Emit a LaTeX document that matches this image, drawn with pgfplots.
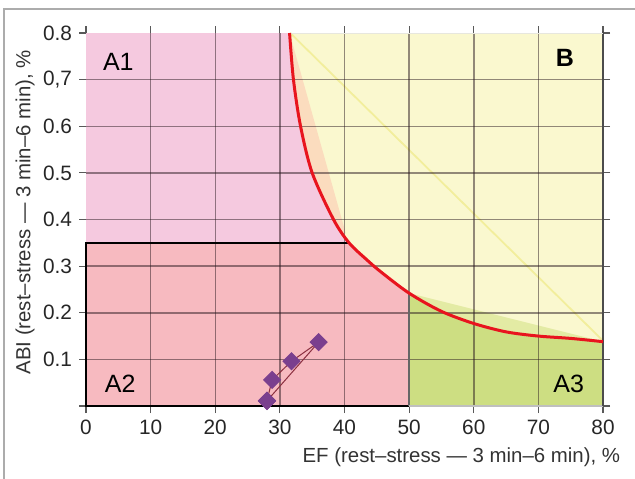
\documentclass[border=0pt]{standalone}
\usepackage{fontspec}
\setmainfont{Liberation Sans}
\usepackage{pgfplots}
\pgfplotsset{compat=1.18}
\definecolor{yel}{HTML}{FAF8CF}
\definecolor{pinkA}{HTML}{F5C9DF}
\definecolor{salmon}{HTML}{F7BAC0}
\definecolor{grn}{HTML}{CDDE82}
\definecolor{lgrn}{HTML}{E3EBA4}
\definecolor{orng}{HTML}{FBDCBE}
\definecolor{diag}{HTML}{F2EE9C}
\definecolor{redc}{HTML}{E8141E}
\definecolor{diam}{HTML}{7A3F8E}
\definecolor{brn}{HTML}{8B3040}
\definecolor{gridc}{HTML}{2A1A20}
\begin{document}
\begin{tikzpicture}
\begin{axis}[
  set layers,
  scale only axis,
  width=258.5pt, height=186.5pt,
  xmin=0, xmax=80, ymin=0, ymax=0.8,
  axis line style={draw=none},
  tick align=outside,
  major tick length=3.5pt,
  tick style={color=black!65, line width=0.6pt},
  xtick={10,20,30,40,50,60,70},
  extra x ticks={0,80},
  ytick={0.1,0.2,0.3,0.4,0.5,0.6,0.7},
  yticklabels={0.1,0.2,0.3,0.4,0.5,0.6,{0,7}},
  extra y ticks={0,0.8},
  extra y tick labels={,0.8},
  extra tick style={grid=none},
  grid=major,
  major grid style={gridc, opacity=0.5, line width=0.75pt},
  /pgf/number format/assume math mode=true,
  tick label style={font=\fontsize{10.4}{12}\selectfont, text=black!85},
  xlabel={EF (rest–stress — 3 min–6 min), \%},
  ylabel={ABI (rest–stress — 3 min–6 min), \%},
  label style={font=\fontsize{10.2}{12}\selectfont, text=black!80},
  xlabel style={at={(axis description cs:0.726,0)}, anchor=center, yshift=-25.5pt},
  ylabel style={at={(axis description cs:-0.118,0.519)}, anchor=center},
  clip=false,
]
% B background
\addplot[on layer=axis background, fill=yel, draw=none] coordinates {(0,0) (80,0) (80,0.8) (0,0.8)} \closedcycle;
% orange wedge
\addplot[on layer=axis background, fill=orng, draw=none] coordinates {(31.5,0.8) (32.1,0.7) (33.2,0.6) (35.0,0.5) (38.3,0.4) (39.7,0.37) (40.2,0.37)} -- cycle;
% A1
\addplot[on layer=axis background, fill=pinkA, draw=none] coordinates {(0,0.35) (0,0.8) (31.5,0.8) (32.1,0.7) (33.2,0.6) (35.0,0.5) (38.3,0.4) (40.7,0.35)} -- cycle;
% A2
\addplot[on layer=axis background, fill=salmon, draw=none] coordinates {(0,0) (0,0.35) (40.7,0.35) (43.5,0.313) (45.6,0.288) (50,0.242) (50,0)} -- cycle;
% A3
\addplot[on layer=axis background, fill=grn, draw=none] coordinates {(50,0) (50,0.242) (55,0.203) (60,0.177) (65,0.159) (70,0.150) (75,0.145) (80,0.138) (80,0)} -- cycle;
% light green wedge
\addplot[on layer=axis background, fill=lgrn, draw=none] coordinates {(50,0.242) (55,0.203) (60,0.177) (65,0.159) (70,0.150) (75,0.145) (80,0.138)} -- cycle;
% faint diagonal
\addplot[on layer=axis background, diag, line width=0.9pt] coordinates {(31.6,0.8) (80,0.14)};
% borders
\addplot[black, line width=0.9pt] coordinates {(40.7,0.35) (0,0.35) (0,0) (50,0)};
\addplot[black!60, line width=0.7pt] coordinates {(50,0.242) (50,0)};
\addplot[black!25, line width=0.6pt] coordinates {(50,0) (80,0)};
\addplot[black!70, line width=0.7pt] coordinates {(80,0) (80,0.805)};
\addplot[yel!70!black!30, line width=0.5pt] coordinates {(31.5,0.8) (80,0.8)};
% red curve
\addplot[redc, line width=1.5pt, smooth, tension=0.5] coordinates {(31.5,0.8) (32.1,0.7) (33.2,0.6) (35.0,0.5) (38.3,0.4) (40.7,0.35) (43.5,0.313) (45.6,0.288) (50,0.242) (55,0.203) (60,0.177) (65,0.159) (70,0.150) (75,0.145) (80,0.138)};
% data
\addplot[brn, line width=0.5pt, mark=square*, mark size=3pt, mark options={rotate=45, fill=diam, draw=diam, solid}] coordinates {(28,0.011) (28.8,0.056) (31.8,0.096) (36.0,0.137) (28,0.011)};
% region labels
\node[font=\fontsize{12.5}{14}\selectfont] at (axis cs:5.0,0.737) {A1};
\node[font=\fontsize{12.5}{14}\selectfont] at (axis cs:5.3,0.047) {A2};
\node[font=\fontsize{12.5}{14}\selectfont] at (axis cs:74.7,0.047) {A3};
\node[font=\fontsize{12.5}{14}\selectfont\bfseries] at (axis cs:74.1,0.747) {B};
\end{axis}
\draw[gray!65, line width=0.8pt] (-41pt,-60pt) rectangle (300pt,198.5pt);
\pgfresetboundingbox
\useasboundingbox (-43pt,-36pt) rectangle (274.5pt,203pt);
\end{tikzpicture}
\end{document}
